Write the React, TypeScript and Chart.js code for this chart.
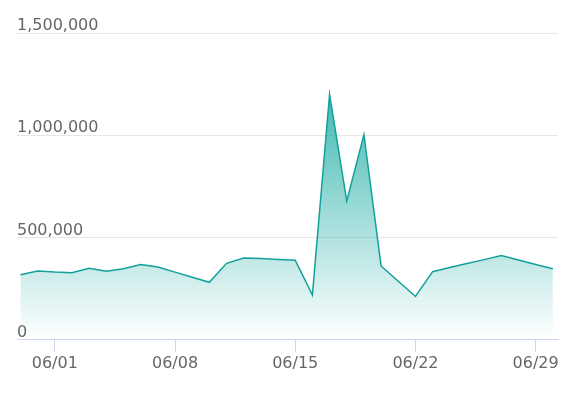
import React, { useEffect, useRef } from "react";
import { Chart, registerables } from "chart.js";

Chart.register(...registerables);

const categories: string[] = [
  "05/30", "05/31", "06/01", "06/02", "06/03", "06/04", "06/05", "06/06",
  "06/07", "06/08", "06/09", "06/10", "06/11", "06/12", "06/13", "06/14",
  "06/15", "06/16", "06/17", "06/18", "06/19", "06/20", "06/21", "06/22",
  "06/23", "06/24", "06/25", "06/26", "06/27", "06/28", "06/29", "06/30",
];

const values: number[] = [
  318000, 336000, 331000, 328000, 350000, 335000, 347000, 368000,
  356000, 331000, 306000, 281000, 374000, 400000, 397000, 393000,
  389000, 219000, 1200000, 678000, 1003000, 361000, 286000, 212000,
  333000, 353000, 373000, 392000, 412000, 390000, 368000, 347000,
];

const xTickLabels: string[] = ["06/01", "06/08", "06/15", "06/22", "06/29"];
const yTicks: number[] = [0, 500000, 1000000, 1500000];

export default function App() {
  const ref = useRef<HTMLCanvasElement | null>(null);

  useEffect(() => {
    if (!ref.current) return;
    const xTickIdx = xTickLabels.map((l) => categories.indexOf(l));
    const chart = new Chart(ref.current, {
      type: "line",
      data: {
        datasets: [
          {
            data: values.map((v, i) => ({ x: i, y: v })),
            borderColor: "#11a19a",
            borderWidth: 1.5,
            pointRadius: 0,
            tension: 0,
            fill: "origin",
            backgroundColor: (ctx: any) => {
              const area = ctx.chart.chartArea;
              if (!area) return "rgba(19,163,156,0.5)";
              const g = ctx.chart.ctx.createLinearGradient(0, area.top, 0, area.bottom);
              g.addColorStop(0, "rgba(19,168,160,1)");
              g.addColorStop(1, "rgba(19,168,160,0)");
              return g;
            },
          },
        ],
      },
      options: {
        animation: false,
        responsive: false,
        maintainAspectRatio: false,
        layout: { padding: { left: 17, right: 19, top: 33, bottom: 19 } },
        plugins: { legend: { display: false }, tooltip: { enabled: false } },
        scales: {
          x: {
            type: "linear",
            min: -0.2,
            max: 31.3,
            afterBuildTicks: (scale: any) => {
              scale.ticks = xTickIdx.map((v) => ({ value: v }));
            },
            grid: {
              drawOnChartArea: false,
              drawTicks: true,
              tickLength: 12,
              color: "#ccd6eb",
            },
            border: { display: true, color: "#ccd6eb", width: 1 },
            ticks: {
              autoSkip: false,
              maxRotation: 0,
              padding: 2,
              color: "#666666",
              font: { family: "DejaVu Sans", size: 16 },
              callback: (v: any) => categories[Number(v)] ?? "",
            },
          },
          y: {
            min: 0,
            max: 1500000,
            afterBuildTicks: (scale: any) => {
              scale.ticks = yTicks.map((v) => ({ value: v }));
            },
            grid: { drawTicks: false, color: "#e6e6e6" },
            border: { display: false },
            ticks: {
              mirror: true,
              padding: 0,
              labelOffset: -7,
              color: "#666666",
              font: { family: "DejaVu Sans", size: 16 },
              callback: (v: any) => Number(v).toLocaleString("en-US"),
            },
          },
        },
      },
    });
    return () => chart.destroy();
  }, []);

  return (
    <div style={{ position: "fixed", left: 0, top: 0, width: 577, height: 394, background: "#fff" }}>
      <canvas ref={ref} width={577} height={394} style={{ width: 577, height: 394 }} />
    </div>
  );
}
